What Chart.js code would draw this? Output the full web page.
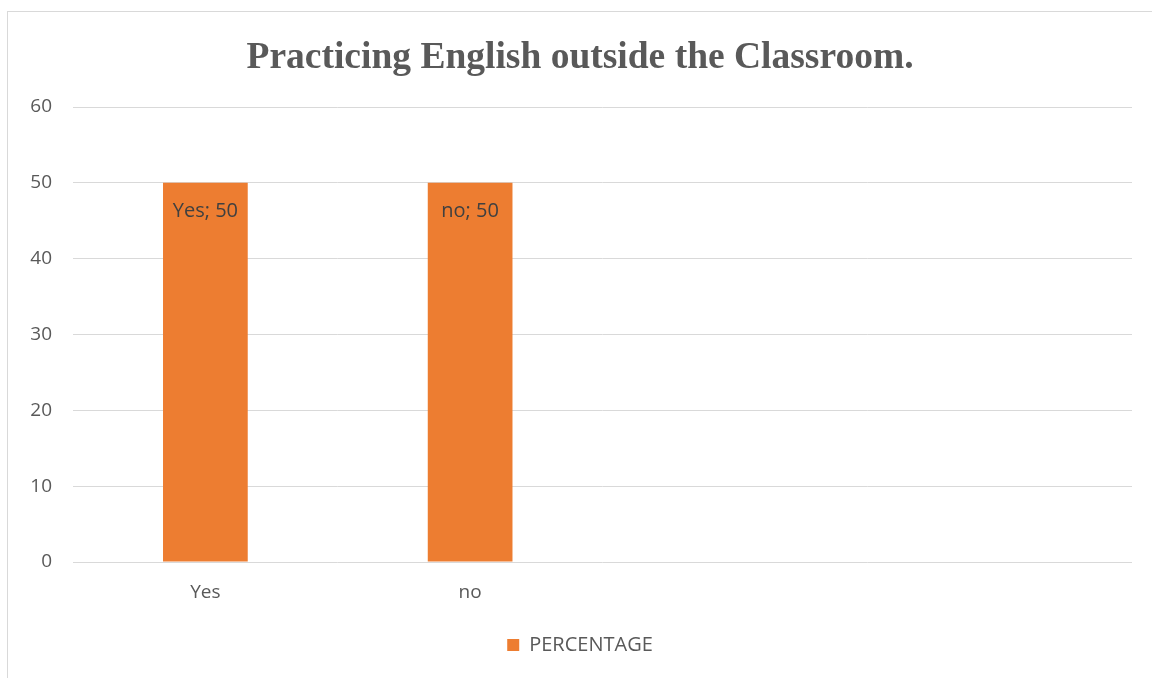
<!DOCTYPE html>
<html>
<head>
<meta charset="utf-8">
<script src="https://cdn.jsdelivr.net/npm/chart.js@4"></script>
<style>
  html, body { margin: 0; padding: 0; background: #fff; overflow: hidden; }
  #wrap { width: 1152px; height: 678px; position: relative; }
</style>
</head>
<body>
<div id="wrap"><canvas id="canvas"></canvas></div>
<script>
// survey answers
var categories = ['Yes', 'no', '', ''];
var percentage = [50, 50, null, null];
var yTicks = [0, 10, 20, 30, 40, 50, 60];

var textGrey = '#595959';
var barColor = '#ED7D31';

// thin frame round the chart, like an office chart box
var framePlugin = {
    id: 'frame',
    beforeDraw: function(chart){
        var c = chart.ctx;
        c.save();
        c.fillStyle = '#fff';
        c.fillRect(0, 0, chart.width, chart.height);
        c.strokeStyle = '#d9d9d9';
        c.lineWidth = 1;
        c.strokeRect(7.5, 11.5, 1160, 700);
        c.restore();
    }
};

// "Yes; 50" style labels inside the top of each bar
var barLabels = {
    id: 'barLabels',
    afterDatasetsDraw: function(chart){
        var c = chart.ctx;
        var meta = chart.getDatasetMeta(0);
        c.save();
        c.font = '20px "Open Sans"';
        c.fillStyle = '#404040';
        c.textAlign = 'center';
        c.textBaseline = 'middle';
        meta.data.forEach(function(bar, i){
            var v = percentage[i];
            if (v == null) return;
            c.fillText(categories[i] + '; ' + v, bar.x, bar.y + 28);
        });
        c.restore();
    }
};

var ctx = document.getElementById('canvas').getContext('2d');
var myChart = new Chart(ctx, {
    type: 'bar',
    data: {
        labels: categories,
        datasets: [{
            label: 'PERCENTAGE',
            data: percentage,
            backgroundColor: barColor,
            categoryPercentage: 1,
            barPercentage: 0.32
        }]
    },
    options: {
        responsive: true,
        maintainAspectRatio: false,
        animation: false,
        layout: {
            padding: { top: 36, left: 28, right: 20, bottom: 13 }
        },
        plugins: {
            title: {
                display: true,
                text: 'Practicing English outside the Classroom.',
                color: textGrey,
                font: { family: '"Liberation Serif", "Times New Roman", serif', size: 37.5, weight: 'bold' },
                padding: { top: 0, bottom: 26 }
            },
            legend: {
                position: 'bottom',
                labels: {
                    color: textGrey,
                    font: { family: '"Open Sans"', size: 20 },
                    boxWidth: 12,
                    boxHeight: 12,
                    padding: 10
                }
            },
            tooltip: { enabled: false }
        },
        scales: {
            x: {
                grid: { display: false, drawTicks: false },
                border: { display: false },
                ticks: {
                    color: textGrey,
                    font: { family: '"Open Sans"', size: 19 },
                    padding: 19,
                    maxRotation: 0
                },
                afterFit: function(axis){ axis.height = 63; }
            },
            y: {
                min: 0,
                max: 60,
                afterBuildTicks: function(axis){
                    axis.ticks = yTicks.map(function(v){ return { value: v }; });
                },
                afterFit: function(axis){ axis.width = 45; },
                grid: { color: '#d9d9d9', lineWidth: 1, drawTicks: false },
                border: { display: false },
                ticks: {
                    color: textGrey,
                    font: { family: '"Open Sans"', size: 19 },
                    padding: 21
                }
            }
        }
    },
    plugins: [framePlugin, barLabels]
});
</script>
</body>
</html>
